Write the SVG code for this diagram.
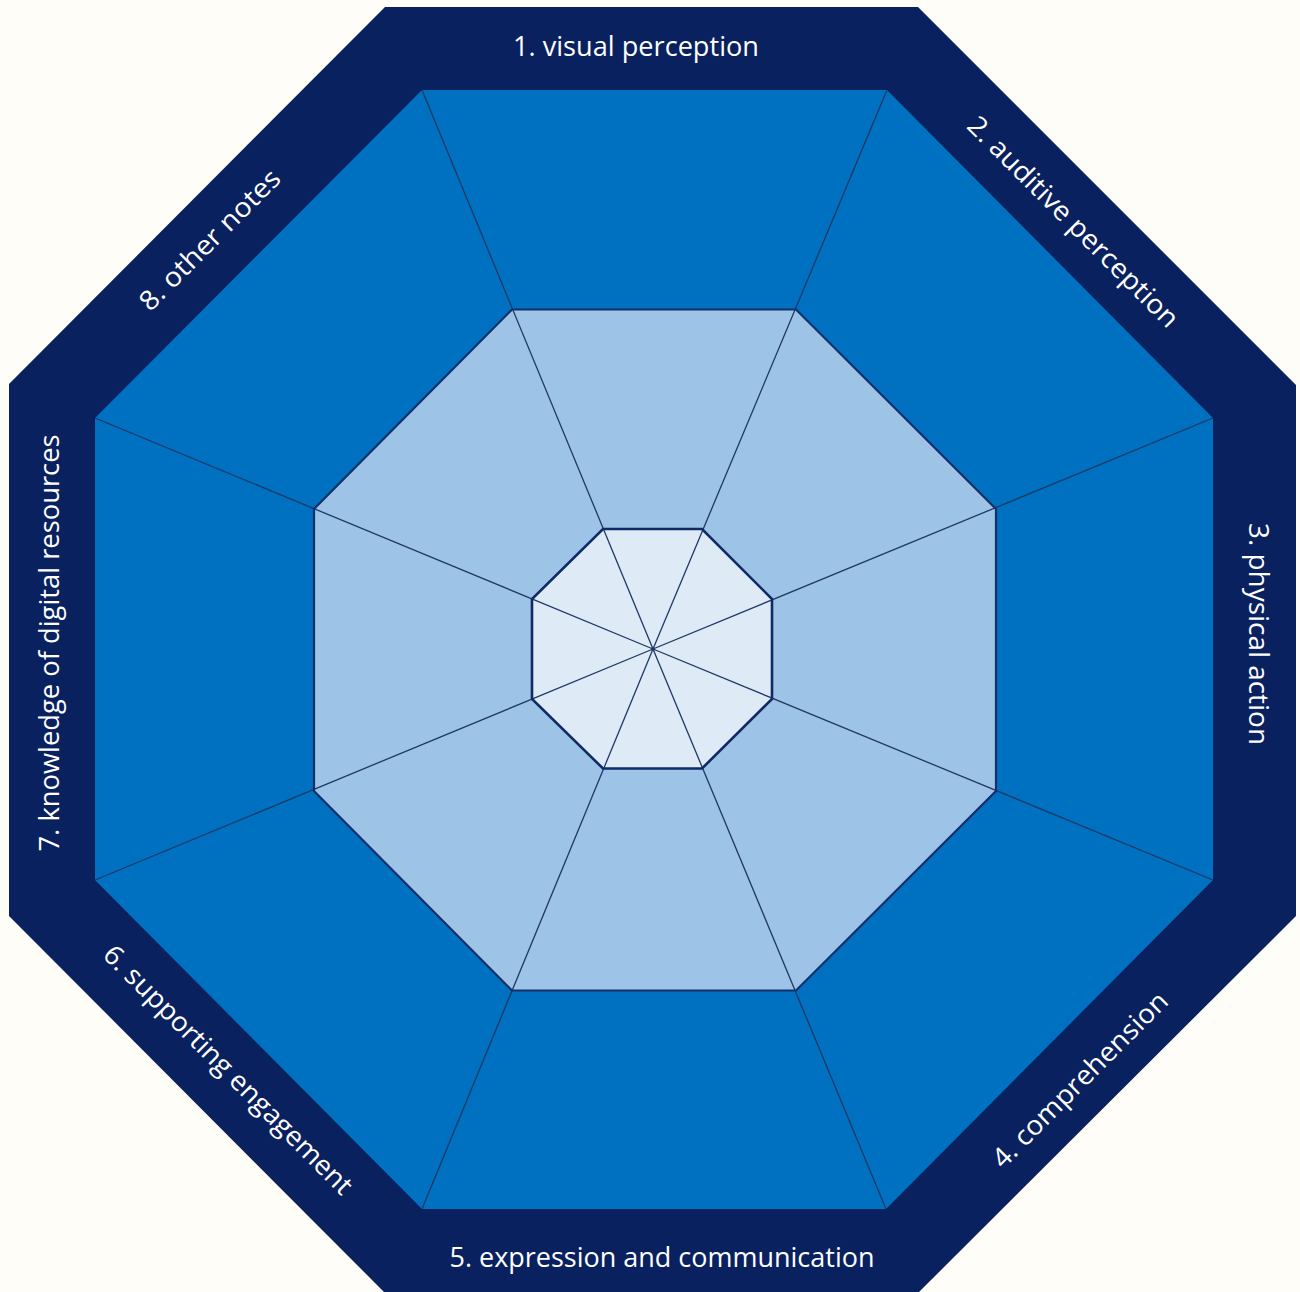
<svg xmlns="http://www.w3.org/2000/svg" width="1300" height="1292" viewBox="0 0 1300 1292">
  <style>
    .lbl { font-family: "Open Sans", "Liberation Sans", sans-serif; font-size: 27px; fill: #ffffff; text-anchor: middle; }
    .div { stroke: #1F3864; stroke-width: 1.3; fill: none; }
  </style>
  <rect x="0" y="0" width="1300" height="1292" fill="#FFFDF8"/>
  <g id="ring-outer">
    <polygon points="385,7 918,7 1296,385 1296,916 918,1293 385,1293 9,916 9,384" fill="#09215F"/>
  </g>
  <g id="ring-middle">
    <polygon points="422,90 887,90 1213,418 1213,880 886,1209 422,1209 95,880 95,418" fill="#0070C0"/>
  </g>
  <g id="ring-light">
    <polygon points="512,309.5 796,309.5 996,509 996,791 796,990.5 512,990.5 314,791 314,509" fill="#9DC3E6"/>
  </g>
  <g id="ring-inner">
    <polygon points="603,529 702,529 772,599 772,699 702,768.5 603,768.5 532,699 532,599" fill="#DEEBF7"/>
  </g>
  <g id="connectors">
    <line class="div" x1="653" y1="649" x2="422" y2="90"/>
    <line class="div" x1="653" y1="649" x2="887" y2="90"/>
    <line class="div" x1="653" y1="649" x2="1213" y2="418"/>
    <line class="div" x1="653" y1="649" x2="1213" y2="880"/>
    <line class="div" x1="653" y1="649" x2="886" y2="1209"/>
    <line class="div" x1="653" y1="649" x2="422" y2="1209"/>
    <line class="div" x1="653" y1="649" x2="95" y2="880"/>
    <line class="div" x1="653" y1="649" x2="95" y2="418"/>
    <polygon points="512,309.5 796,309.5 996,509 996,791 796,990.5 512,990.5 314,791 314,509" fill="none" stroke="#12306C" stroke-width="2.2"/>
    <polygon points="603,529 702,529 772,599 772,699 702,768.5 603,768.5 532,699 532,599" fill="none" stroke="#0F2A66" stroke-width="2.6"/>
    <circle cx="653" cy="649" r="2" fill="#1F3864"/>
  </g>
  <g id="node-1">
    <text class="lbl" x="636" y="56" textLength="246" lengthAdjust="spacingAndGlyphs">1. visual perception</text>
  </g>
  <g id="node-2">
    <text class="lbl" transform="translate(1073,222) rotate(45)" x="0" y="9" textLength="286" lengthAdjust="spacingAndGlyphs">2. auditive perception</text>
  </g>
  <g id="node-3">
    <text class="lbl" transform="translate(1258,634) rotate(90)" x="0" y="9" textLength="222" lengthAdjust="spacingAndGlyphs">3. physical action</text>
  </g>
  <g id="node-4">
    <text class="lbl" transform="translate(1080,1080) rotate(-45)" x="0" y="9" textLength="236" lengthAdjust="spacingAndGlyphs">4. comprehension</text>
  </g>
  <g id="node-5">
    <text class="lbl" x="662" y="1267" textLength="425" lengthAdjust="spacingAndGlyphs">5. expression and communication</text>
  </g>
  <g id="node-6">
    <text class="lbl" transform="translate(228,1070) rotate(45)" x="0" y="9" textLength="340" lengthAdjust="spacingAndGlyphs">6. supporting engagement</text>
  </g>
  <g id="node-7">
    <text class="lbl" transform="translate(50,643) rotate(-90)" x="0" y="9" textLength="417" lengthAdjust="spacingAndGlyphs">7. knowledge of digital resources</text>
  </g>
  <g id="node-8">
    <text class="lbl" transform="translate(210,240) rotate(-45)" x="0" y="9" textLength="187" lengthAdjust="spacingAndGlyphs">8. other notes</text>
  </g>
</svg>
